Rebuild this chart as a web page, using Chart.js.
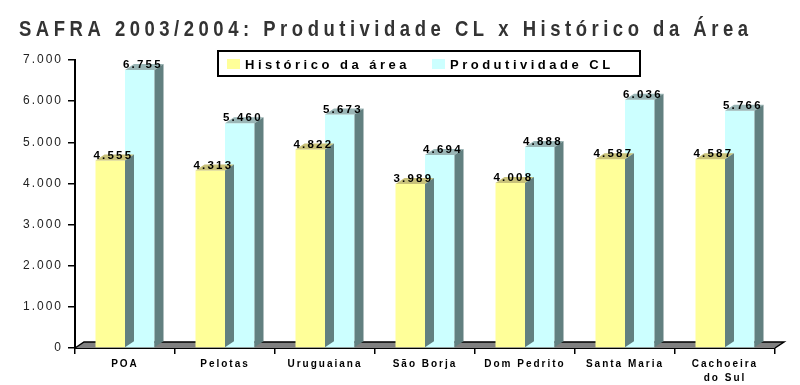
<!DOCTYPE html>
<html>
<head>
<meta charset="utf-8">
<script src="https://cdn.jsdelivr.net/npm/chart.js@4/dist/chart.umd.min.js"></script>
<style>
  html, body { margin: 0; padding: 0; background: #fff; }
  canvas { display: block; }
</style>
</head>
<body>
<canvas id="canvas" width="800" height="385"></canvas>
<script>
// Data
const categorias = ['POA', 'Pelotas', 'Uruguaiana', 'São Borja', 'Dom Pedrito', 'Santa Maria', ['Cachoeira', 'do Sul']];
const historicoArea = [4555, 4313, 4822, 3989, 4008, 4587, 4587];
const produtividadeCL = [6755, 5460, 5673, 4694, 4888, 6036, 5766];
const yMax = 7000;
const yStep = 1000;

const titulo = 'SAFRA 2003/2004: Produtividade CL x Histórico da Área';
const legendaTextos = ['Histórico da área', 'Produtividade CL'];

const fmt = v => v.toLocaleString('pt-BR');

// 3D look
const DX = 9, DY = 6;
const topColors = ['#c9c27a', '#9ab6b6'];
const sideColor = '#628080';

function drawSpaced(ctx, text, x, y, spacing, align) {
  ctx.letterSpacing = spacing + 'px';
  let w = ctx.measureText(text).width - spacing;
  let sx = x;
  if (align === 'center') sx = x - w / 2;
  if (align === 'right') sx = x - w;
  ctx.textAlign = 'left';
  ctx.fillText(text, sx, y);
}

const plugin3d = {
  id: 'plugin3d',
  beforeDraw(chart) {
    chart.ctx.letterSpacing = '2px';
  },
  beforeDatasetsDraw(chart) {
    // floor
    const ctx = chart.ctx;
    const a = chart.chartArea;
    ctx.save();
    ctx.beginPath();
    ctx.moveTo(a.left, a.bottom);
    ctx.lineTo(a.left + DX, a.bottom - DY);
    ctx.lineTo(a.right + DX, a.bottom - DY);
    ctx.lineTo(a.right, a.bottom);
    ctx.closePath();
    ctx.fillStyle = '#808080';
    ctx.fill();
    ctx.strokeStyle = '#000';
    ctx.lineWidth = 1.5;
    ctx.beginPath();
    ctx.moveTo(a.left, a.bottom);
    ctx.lineTo(a.left + DX, a.bottom - DY);
    ctx.lineTo(a.right + DX, a.bottom - DY);
    ctx.lineTo(a.right, a.bottom);
    ctx.stroke();
    ctx.restore();
  },
  afterDatasetDraw(chart, args) {
    const ctx = chart.ctx;
    const i = args.index;
    ctx.save();
    args.meta.data.forEach(bar => {
      const p = bar.getProps(['x', 'y', 'base', 'width'], true);
      const l = p.x - p.width / 2, r = p.x + p.width / 2;
      // top face
      ctx.beginPath();
      ctx.moveTo(l, p.y);
      ctx.lineTo(l + DX, p.y - DY);
      ctx.lineTo(r + DX, p.y - DY);
      ctx.lineTo(r, p.y);
      ctx.closePath();
      ctx.fillStyle = topColors[i];
      ctx.fill();
      // side face
      ctx.beginPath();
      ctx.moveTo(r, p.y);
      ctx.lineTo(r + DX, p.y - DY);
      ctx.lineTo(r + DX, p.base - DY);
      ctx.lineTo(r, p.base);
      ctx.closePath();
      ctx.fillStyle = sideColor;
      ctx.fill();
    });
    ctx.restore();
  },
  afterDatasetsDraw(chart) {
    const ctx = chart.ctx;
    ctx.save();
    ctx.font = 'bold 11.5px Arial, "Liberation Sans", sans-serif';
    ctx.fillStyle = '#000';
    ctx.textBaseline = 'alphabetic';
    chart.data.datasets.forEach((ds, i) => {
      chart.getDatasetMeta(i).data.forEach((bar, j) => {
        drawSpaced(ctx, fmt(ds.data[j]), bar.x + 2, bar.y - 2, 2.2, 'center');
      });
    });
    ctx.restore();
  },
  afterDraw(chart) {
    const ctx = chart.ctx;
    ctx.save();
    // title (narrowed glyphs, wide spacing)
    const sx = 0.84;
    ctx.fillStyle = '#333';
    ctx.font = 'bold 22px Arial, "Liberation Sans", sans-serif';
    ctx.textBaseline = 'alphabetic';
    ctx.letterSpacing = '0px';
    const w0 = ctx.measureText(titulo).width;
    const sp = (729 / sx - w0) / (titulo.length - 1);
    ctx.save();
    ctx.translate(19, 36);
    ctx.scale(sx, 1);
    drawSpaced(ctx, titulo, 0, 0, sp, 'left');
    ctx.restore();

    // legend box
    ctx.strokeStyle = '#000';
    ctx.lineWidth = 2;
    ctx.strokeRect(218, 51, 422, 25);
    const colors = chart.data.datasets.map(d => d.backgroundColor);
    const boxX = [227, 432];
    ctx.font = 'bold 13px Arial, "Liberation Sans", sans-serif';
    legendaTextos.forEach((t, k) => {
      ctx.fillStyle = colors[k];
      ctx.fillRect(boxX[k], 59, 13, 10);
      ctx.fillStyle = '#000';
      drawSpaced(ctx, t, boxX[k] + 18, 69, 3.5, 'left');
    });
    ctx.restore();
  }
};

new Chart(document.getElementById('canvas').getContext('2d'), {
  type: 'bar',
  data: {
    labels: categorias,
    datasets: [
      { label: legendaTextos[0], data: historicoArea, backgroundColor: '#FFFF99' },
      { label: legendaTextos[1], data: produtividadeCL, backgroundColor: '#CCFFFF' }
    ]
  },
  options: {
    responsive: false,
    animation: false,
    devicePixelRatio: 1,
    layout: { padding: { top: 60, right: 25, left: 0, bottom: 0 } },
    plugins: {
      legend: { display: false },
      title: { display: false },
      tooltip: { enabled: false }
    },
    datasets: {
      bar: { categoryPercentage: 0.59, barPercentage: 1 }
    },
    scales: {
      x: {
        z: 1,
        afterFit(s) { s.height = 37; },
        grid: { drawOnChartArea: false, color: '#000', lineWidth: 1.5, tickLength: 6, offset: true },
        border: { color: '#000', width: 2 },
        ticks: {
          color: '#000',
          padding: 3,
          maxRotation: 0,
          autoSkip: false,
          font: { family: 'Arial, "Liberation Sans", sans-serif', size: 10, weight: 'bold', lineHeight: 1.4 }
        }
      },
      y: {
        z: 1,
        min: 0,
        max: yMax,
        afterFit(s) { s.width = 75; },
        grid: { drawOnChartArea: false, color: '#000', lineWidth: 1.5, tickLength: 7 },
        border: { color: '#000', width: 2 },
        ticks: {
          stepSize: yStep,
          color: '#222',
          padding: 5,
          font: { family: 'Arial, "Liberation Sans", sans-serif', size: 12 },
          callback: v => fmt(v)
        }
      }
    }
  },
  plugins: [plugin3d]
});
</script>
</body>
</html>
